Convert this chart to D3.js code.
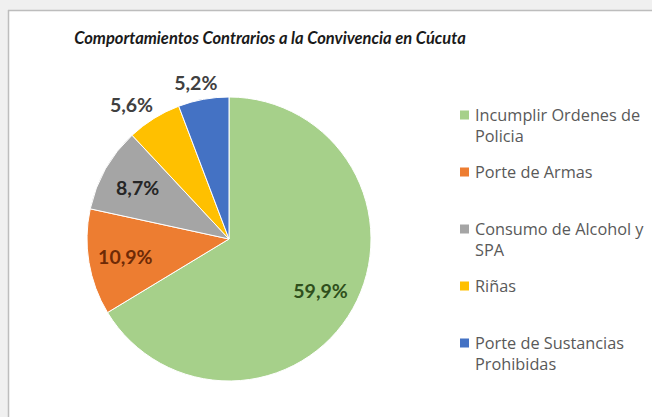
<!DOCTYPE html>
<html>
<head>
<meta charset="utf-8">
<script src="https://cdn.jsdelivr.net/npm/d3@7"></script>
<style>
  html, body { margin: 0; padding: 0; background: #f0f0f0; }
  svg { display: block; }
</style>
</head>
<body>
<svg id="chart" width="652" height="417"></svg>
<script>
// ---- data ----
const title = "Comportamientos Contrarios a la Convivencia en Cúcuta";
const categories = [
  "Incumplir Ordenes de Policia",
  "Porte de Armas",
  "Consumo de Alcohol y SPA",
  "Riñas",
  "Porte de Sustancias Prohibidas"
];
const values = [59.9, 10.9, 8.7, 5.6, 5.2];
const valueLabels = ["59,9%", "10,9%", "8,7%", "5,6%", "5,2%"];

// ---- styling ----
const colors = ["#a6d08a", "#ed7d31", "#a5a5a5", "#ffc000", "#4472c4"];
const labelColors = ["#2f4f1c", "#6e2a06", "#262626", "#404040", "#404040"];
const labelInside = [true, true, true, false, false];

const W = 652, H = 417;
const svg = d3.select("#chart");

// panel
svg.append("rect").attr("x", 8).attr("y", 10).attr("width", W).attr("height", H)
  .attr("fill", "#ffffff");
svg.append("line").attr("x1", 8.5).attr("x2", 8.5).attr("y1", 10).attr("y2", H)
  .attr("stroke", "#bdbdbd").attr("stroke-width", 1.5);
svg.append("line").attr("x1", 8).attr("x2", W).attr("y1", 10.5).attr("y2", 10.5)
  .attr("stroke", "#bdbdbd").attr("stroke-width", 1.5);

// title
svg.append("text")
  .attr("x", 270).attr("y", 44)
  .attr("text-anchor", "middle")
  .attr("font-family", "Lato, 'Open Sans', sans-serif")
  .attr("font-weight", "bold").attr("font-style", "italic")
  .attr("font-size", 16.5)
  .attr("fill", "#1a1a1a")
  .text(title);

// pie
const cx = 229, cy = 239, R = 142;
const pie = d3.pie().sort(null).value(d => d)(values);
const arc = d3.arc().innerRadius(0).outerRadius(R);
const g = svg.append("g").attr("transform", `translate(${cx},${cy})`);

g.selectAll("path.slice").data(pie).join("path")
  .attr("class", "slice")
  .attr("d", arc)
  .attr("fill", (d, i) => colors[i])
  .attr("stroke", "#ffffff").attr("stroke-width", 1);

// labels
const inArc = d3.arc().innerRadius(R * 0.74).outerRadius(R * 0.74);
const outArc = d3.arc().innerRadius(R + 8).outerRadius(R + 8);
const labFont = 19.5;
g.selectAll("text.lab").data(pie).join("text")
  .attr("class", "lab")
  .attr("font-family", "Lato, 'Open Sans', sans-serif")
  .attr("font-weight", "bold")
  .attr("font-size", labFont)
  .attr("fill", (d, i) => labelColors[i])
  .attr("text-anchor", "middle")
  .attr("dominant-baseline", "central")
  .text((d, i) => valueLabels[i])
  .each(function(d, i) {
    const t = d3.select(this);
    if (labelInside[i]) {
      const [x, y] = inArc.centroid(d);
      t.attr("x", x).attr("y", y);
    } else {
      const [x, y] = outArc.centroid(d);
      const a = (d.startAngle + d.endAngle) / 2;
      const w = this.getComputedTextLength();
      t.attr("x", x + Math.sin(a) * w * 0.8).attr("y", y - Math.cos(a) * labFont * 0.45);
    }
  });

// legend
const legY = d3.scalePoint().domain(categories).range([115, 343]);
const legX = 460, txtX = 475, lineH = 21, maxW = 180;
const legFont = 16.3;
const leg = svg.append("g");
categories.forEach((c, i) => {
  const y0 = legY(c);
  leg.append("rect").attr("x", legX).attr("y", y0 - 4.5).attr("width", 9).attr("height", 9)
    .attr("fill", colors[i]);
  const txt = leg.append("text")
    .attr("font-family", "'Open Sans', Lato, sans-serif")
    .attr("font-size", legFont)
    .attr("fill", "#595959")
    .attr("dominant-baseline", "central");
  // word wrap
  const words = c.split(" ");
  let line = [], lineNo = 0;
  let tspan = txt.append("tspan").attr("x", txtX).attr("y", y0);
  words.forEach(wd => {
    line.push(wd);
    tspan.text(line.join(" "));
    if (tspan.node().getComputedTextLength() > maxW && line.length > 1) {
      line.pop();
      tspan.text(line.join(" "));
      line = [wd];
      lineNo++;
      tspan = txt.append("tspan").attr("x", txtX).attr("y", y0 + lineNo * lineH).text(wd);
    }
  });
});
</script>
</body>
</html>
